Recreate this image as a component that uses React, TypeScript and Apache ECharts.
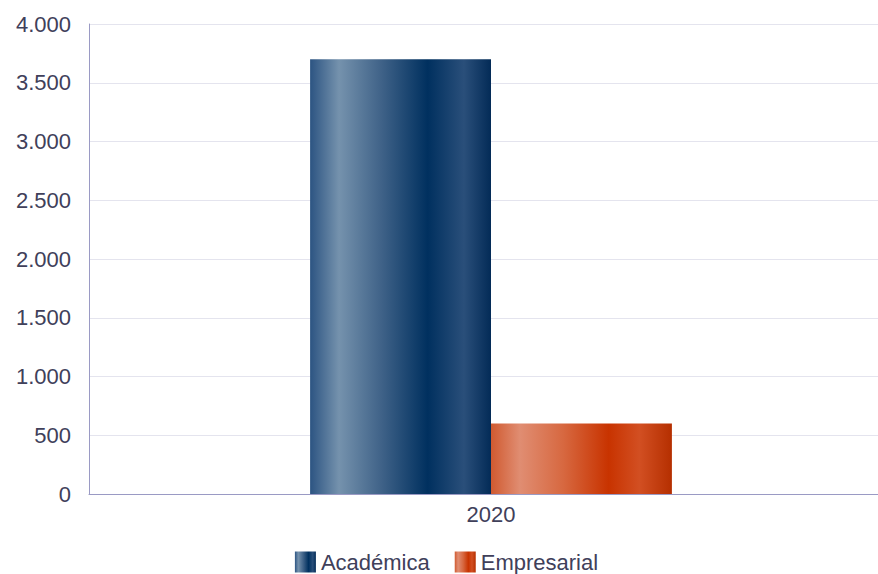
import React, { useEffect, useRef } from "react";
import * as echarts from "echarts";

const categories = ["2020"];
const academica = [3700];
const empresarial = [600];
const seriesNames = ["Académica", "Empresarial"];
const yTicks = { min: 0, max: 4000, interval: 500 };

function fmt(v: number): string {
  return String(v).replace(/\B(?=(\d{3})+(?!\d))/g, ".");
}

const blueGrad = new echarts.graphic.LinearGradient(0, 0, 1, 0, [
  { offset: 0, color: "#2c5482" },
  { offset: 0.16, color: "#7592ad" },
  { offset: 0.4, color: "#3e6187" },
  { offset: 0.65, color: "#00305f" },
  { offset: 0.85, color: "#2a4f7a" },
  { offset: 1, color: "#032b57" },
]);
const orangeGrad = new echarts.graphic.LinearGradient(0, 0, 1, 0, [
  { offset: 0, color: "#d05a30" },
  { offset: 0.16, color: "#e08d72" },
  { offset: 0.4, color: "#d76840" },
  { offset: 0.65, color: "#c83300" },
  { offset: 0.82, color: "#d24f22" },
  { offset: 1, color: "#b52f00" },
]);

const FONT = "Liberation Sans, Arial, sans-serif";

export default function App() {
  const ref = useRef<HTMLDivElement>(null);
  useEffect(() => {
    document.body.style.margin = "0";
    const chart = echarts.init(ref.current!, null, { renderer: "svg" });
    chart.setOption({
      animation: false,
      grid: { left: 89, right: 0, top: 24, bottom: 80 },
      legend: {
        top: 551,
        left: "center",
        padding: 0,
        itemWidth: 21,
        itemHeight: 21,
        itemGap: 25,
        icon: "rect",
        textStyle: { color: "#40405a", fontSize: 22, fontFamily: FONT },
        data: seriesNames,
      },
      xAxis: {
        type: "category",
        data: categories,
        axisLine: { show: true, lineStyle: { color: "#9a9ac4", width: 1 } },
        axisTick: { show: false },
        axisLabel: { color: "#40405a", fontSize: 22, margin: 9, fontFamily: FONT },
      },
      yAxis: {
        type: "value",
        min: yTicks.min,
        max: yTicks.max,
        interval: yTicks.interval,
        axisLine: { show: true, lineStyle: { color: "#9a9ac4", width: 1 } },
        axisTick: { show: false },
        splitLine: { lineStyle: { color: "#e4e4ee", width: 1 } },
        axisLabel: {
          color: "#40405a",
          fontSize: 22,
          margin: 18,
          fontFamily: FONT,
          formatter: (v: number) => fmt(v),
        },
      },
      series: [
        {
          name: seriesNames[0],
          type: "bar",
          data: academica,
          barGap: "0%",
          barCategoryGap: "55%",
          itemStyle: { color: blueGrad },
        },
        {
          name: seriesNames[1],
          type: "bar",
          data: empresarial,
          itemStyle: { color: orangeGrad },
        },
      ],
    });
    return () => chart.dispose();
  }, []);
  return (
    <div style={{ width: 878, height: 574, overflow: "hidden" }}>
      <div ref={ref} style={{ width: 893, height: 574 }} />
    </div>
  );
}
